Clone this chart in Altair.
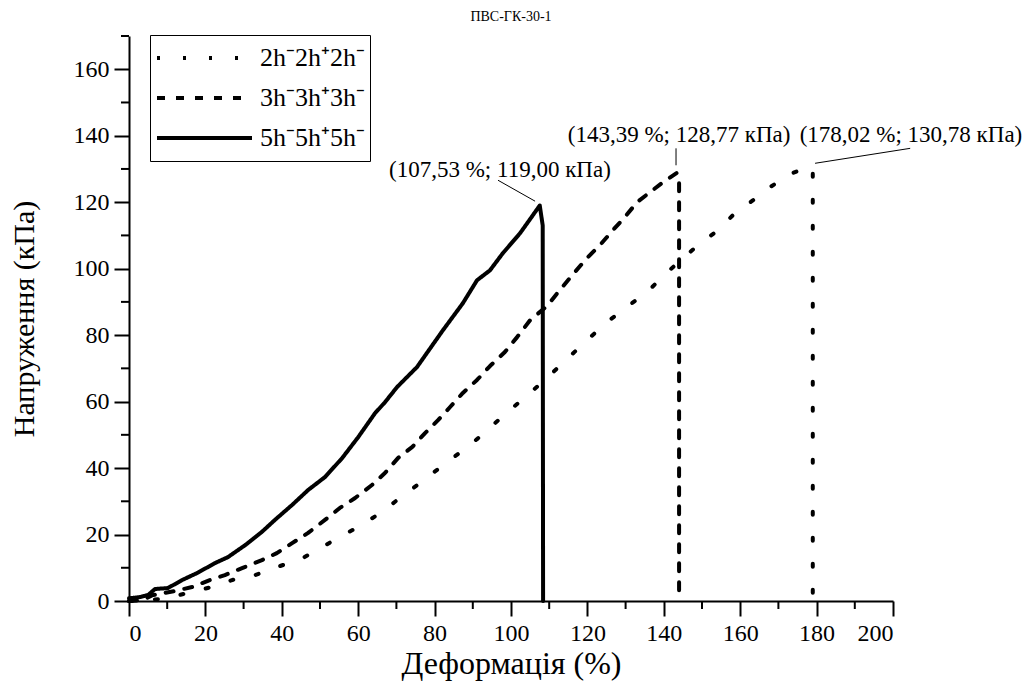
import altair as alt
import pandas as pd

series_names = ["2h⁻2h⁺2h⁻", "3h⁻3h⁺3h⁻", "5h⁻5h⁺5h⁻"]

x_2h = [0, 5, 10.2, 16.5, 21.7, 27, 33, 39.5, 45.5, 50.5, 56, 61, 66.2, 70.9, 76.2, 80.9,
        86.1, 91.1, 95.8, 100.3, 105, 109.7, 114.1, 118.8, 125.1, 130.6, 135.6, 140.3,
        144.8, 149, 153.9, 158.1, 163.4, 167.8, 173, 178.02, 179.0, 179.0]
y_2h = [0, 0.2, 0.9, 2.8, 4.2, 6.3, 7.8, 10.5, 12.9, 16.2, 19.8, 22.9, 26.8, 31.0, 35.5, 39.7,
        44.2, 48.7, 53.5, 58.0, 62.6, 67.4, 72.2, 77.3, 83.9, 88.7, 92.9, 98.3,
        102.9, 107.1, 111.3, 116.1, 120.6, 124.5, 128.4, 130.78, 130.0, 0]

x_3h = [0, 3.4, 6.3, 12, 16.5, 21.2, 25.1, 29.6, 34.8, 38.7, 42.7, 46.9, 51.3, 55.2, 59.2,
        63.6, 67.0, 70.4, 74.1, 77.5, 80.9, 84.0, 87.4, 91.1, 94.5, 98.4, 101.6, 105,
        109.4, 112.3, 116, 119.9, 123.3, 126.7, 129.8, 133, 136.4, 139.8, 143.39, 144.0, 144.0]
y_3h = [0, 0.3, 1.8, 3, 4.2, 6.3, 7.8, 9.9, 12.3, 14.4, 17.4, 20.5, 24.4, 28.0, 31.0,
        34.9, 38.5, 43.0, 46.3, 50.5, 54.4, 58.3, 62.6, 66.5, 70.7, 74.9, 79.4, 84.5,
        88.7, 92.9, 98.0, 103.2, 107.1, 111.6, 115.5, 120.0, 123.0, 126.0, 128.77, 127.5, 0]

x_5h = [0, 3, 5, 6.8, 10.2, 13.9, 17.8, 20, 22.5, 25.9, 30.4, 34.8, 38.2, 42.7, 46.9, 51.3,
        55.8, 60.0, 64.4, 67.0, 70.2, 75.4, 82.2, 87.4, 91.1, 94.5, 97.9, 102.4, 107.53,
        108.3, 108.4]
y_5h = [0.8, 1.2, 1.8, 3.6, 3.9, 6.3, 8.4, 9.8, 11.4, 13.2, 16.8, 20.8, 24.4, 28.9, 33.4, 37.3,
        43.0, 49.3, 56.5, 59.8, 64.4, 70.4, 81.5, 89.6, 96.5, 99.5, 104.7, 110.7, 119.0,
        113.0, 0]

# annotations
ann_text = ["(107,53 %; 119,00 кПа)", "(143,39 %; 128,77 кПа)", "(178,02 %; 130,78 кПа)"]
ann_x = [97.1, 144.0, 204.7]
ann_y = [129.6, 140.2, 140.2]
lead_x = [96.6, 143.2, 204.5]
lead_y = [126.6, 136.2, 136.2]
lead_x2 = [106.3, 143.2, 179.6]
lead_y2 = [120.3, 131.1, 131.7]

x_major = list(range(0, 201, 20))
y_major = list(range(0, 161, 20))
x_minor = list(range(10, 200, 20))
y_minor = list(range(10, 171, 20))

rows = []
for name, xs, ys in zip(series_names, [x_2h, x_3h, x_5h], [y_2h, y_3h, y_5h]):
    for i, (a, b) in enumerate(zip(xs, ys)):
        rows.append({"series": name, "x": a, "y": b, "i": i})
df = pd.DataFrame(rows)

ann_df = pd.DataFrame({"t": ann_text, "x": ann_x, "y": ann_y})
lead_df = pd.DataFrame({"x": lead_x, "y": lead_y, "x2": lead_x2, "y2": lead_y2})
xminor_df = pd.DataFrame({"x": x_minor})
yminor_df = pd.DataFrame({"y": y_minor})

FONT = "Liberation Serif"
W, H = 764, 565
xscale = alt.Scale(domain=[0, 200], nice=False, zero=False)
yscale = alt.Scale(domain=[0, 170], nice=False, zero=False)

lines = alt.Chart(df).mark_line(
    strokeWidth=4, strokeCap="round", strokeJoin="round", color="black"
).encode(
    x=alt.X("x:Q", scale=xscale,
            axis=alt.Axis(title="Деформація (%)", values=x_major, titlePadding=3,
                          titleFontSize=32, labelFont=FONT, titleFont=FONT)),
    y=alt.Y("y:Q", scale=yscale,
            axis=alt.Axis(title="Напруження (кПа)", values=y_major, titlePadding=34,
                          titleFontSize=30, labelFont=FONT, titleFont=FONT)),
    strokeDash=alt.StrokeDash(
        "series:N",
        scale=alt.Scale(domain=series_names, range=[[3, 23], [8, 11], [1, 0]]),
        legend=alt.Legend(
            title=None, orient="none", legendX=21, legendY=-1,
            symbolType="stroke", symbolSize=9025, symbolStrokeWidth=4,
            symbolStrokeColor="black", labelFont=FONT, labelFontSize=26,
            labelColor="black", labelOffset=6, strokeColor="black",
            fillColor="white", padding=5, rowPadding=4, clipHeight=36,
        ),
    ),
    order="i:Q",
)

xminor = alt.Chart(xminor_df).mark_rule(color="black", strokeWidth=2).encode(
    x=alt.X("x:Q", scale=xscale), y=alt.value(H), y2=alt.value(H + 8)
)
yminor = alt.Chart(yminor_df).mark_rule(color="black", strokeWidth=2).encode(
    y=alt.Y("y:Q", scale=yscale), x=alt.value(0), x2=alt.value(-8)
)

leads = alt.Chart(lead_df).mark_rule(color="black", strokeWidth=1).encode(
    x=alt.X("x:Q", scale=xscale), y=alt.Y("y:Q", scale=yscale),
    x2="x2:Q", y2="y2:Q"
)
texts = alt.Chart(ann_df).mark_text(
    font=FONT, fontSize=23, color="black", align="center", baseline="middle"
).encode(
    x=alt.X("x:Q", scale=xscale), y=alt.Y("y:Q", scale=yscale), text="t:N"
)

chart = alt.layer(lines, xminor, yminor, leads, texts).properties(
    width=W, height=H,
    title=alt.TitleParams("ПВС-ГК-30-1", font=FONT, fontSize=14, fontWeight="normal",
                          anchor="middle", offset=11, color="black"),
    autosize=alt.AutoSizeParams(type="none"),
    padding={"left": 121, "top": 28, "right": 130, "bottom": 84},
).configure(font=FONT).configure_view(strokeWidth=0).configure_axis(
    labelFont=FONT, labelFontSize=24, labelColor="black",
    titleFont=FONT, titleFontWeight="normal", titleColor="black",
    domainColor="black", domainWidth=2, tickColor="black", tickWidth=2, tickSize=15,
    grid=False, labelPadding=5,
).configure_legend(labelFont=FONT)

chart.save("out.html", embed_options={"renderer": "svg", "actions": False})
